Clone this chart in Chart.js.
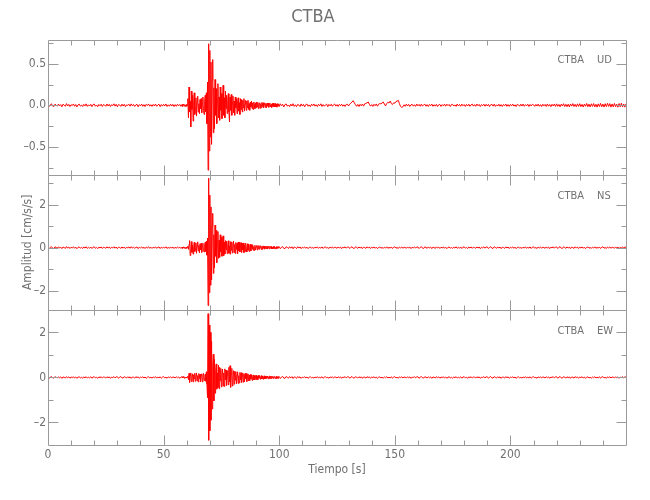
<!DOCTYPE html>
<html>
<head>
<meta charset="utf-8">
<title>CTBA</title>
<script src="https://cdn.jsdelivr.net/npm/chart.js@4.4.1/dist/chart.umd.min.js"></script>
<style>
  html, body { margin: 0; padding: 0; background: #fff; }
</style>
</head>
<body>
<canvas id="canvasCTBA" width="650" height="500"></canvas>
<script>
// estacion y componentes
var estacion = 'CTBA';
var componentes = ['UD', 'NS', 'EW'];

// inicio [s] y paso de muestreo [s] de cada tramo de la traza
var tramoAntes = [0, 0.5];     // 0 .. 57.5
var tramoEvento = [58, 0.25];  // 58 .. 99.75
var tramoDespues = [100, 0.5]; // 100 .. 250

// ---- UD [cm/s/s] ----
var udAntes = [
  0.010,-0.014,0.006,0.018,-0.009,-0.016,0.012,0.004,-0.011,0.015,
  -0.006,0.009,-0.018,0.013,0.002,-0.012,0.020,-0.008,0.011,-0.015,
  0.007,-0.003,0.016,-0.012,0.009,-0.019,0.005,0.014,-0.010,0.003,
  -0.014,0.011,-0.007,0.017,-0.013,0.006,-0.009,0.012,-0.016,0.008,
  0.015,-0.011,0.004,-0.017,0.010,-0.006,0.013,-0.014,0.009,0.002,
  -0.012,0.016,-0.008,0.011,-0.015,0.007,-0.004,0.018,-0.010,0.012,
  -0.017,0.009,0.003,-0.013,0.014,-0.009,0.012,-0.016,0.006,-0.002,
  0.013,-0.011,0.017,-0.007,0.010,-0.014,0.005,0.011,-0.018,0.009,
  -0.006,0.014,-0.012,0.008,-0.015,0.012,-0.003,0.016,-0.011,0.007,
  -0.013,0.010,-0.008,0.015,-0.012,0.004,0.013,-0.016,0.009,-0.010,
  0.012,-0.007,0.016,-0.014,0.006,-0.011,0.014,-0.009,0.011,-0.015,
  0.008,-0.012,0.013,-0.006,0.010,-0.013
];
var udEvento = [
  0.011,-0.013,0.006,0.015,-0.010,0.004,-0.014,0.009,
  -0.012,0.010,0.08,-0.15,0.22,-0.08,0.05,-0.26,
  0.17,-0.05,0.12,-0.19,0.06,0.15,-0.11,-0.03,
  0.09,-0.13,0.04,0.11,-0.08,0.02,-0.10,0.07,
  -0.04,0.08,-0.09,0.03,0.10,-0.06,-0.11,0.05,
  0.12,-0.08,0.15,-0.22,0.28,-0.78,0.74,-0.55,
  0.66,-0.38,0.52,-0.47,0.30,0.55,-0.33,0.21,
  -0.28,0.31,-0.12,0.20,-0.22,0.08,0.26,-0.15,
  0.10,-0.18,0.22,-0.06,0.14,-0.16,0.05,0.24,
  -0.12,0.09,-0.15,0.17,-0.04,0.12,-0.10,0.06,
  0.14,-0.08,-0.20,0.10,-0.06,0.13,-0.12,0.04,
  0.11,-0.09,0.05,-0.12,0.10,-0.03,0.08,-0.10,
  0.04,0.09,-0.07,0.03,-0.11,0.08,-0.05,0.07,
  -0.08,0.06,-0.03,0.08,-0.07,0.02,0.06,-0.06,
  0.05,-0.03,0.06,-0.05,0.02,-0.06,0.04,-0.02,
  0.05,-0.04,0.03,-0.05,0.04,0.01,-0.04,0.03,
  -0.03,0.04,-0.02,0.035,-0.04,0.02,0.03,-0.035,
  0.02,-0.03,0.035,-0.015,0.03,-0.03,0.01,0.03,
  -0.025,0.02,-0.03,0.025,-0.01,0.028,-0.024,0.012,
  0.025,-0.02,0.01,-0.026,0.022,-0.012,0.024,-0.02,
  0.008,0.022,-0.018,0.014,-0.022,0.02,-0.008,0.018
];
var udDespues = [
  -0.015,0.018,-0.006,0.012,-0.020,0.009,0.016,-0.011,0.004,-0.017,
  0.014,-0.008,0.019,-0.013,0.006,-0.016,0.011,0.003,-0.014,0.017,
  -0.009,0.012,-0.018,0.008,0.015,-0.012,0.005,-0.016,0.013,-0.004,
  0.016,-0.010,0.007,-0.015,0.012,-0.006,0.018,-0.013,0.009,-0.011,
  0.004,0.014,-0.016,0.010,-0.007,0.013,-0.012,0.006,0.015,-0.010,
  0.008,-0.013,0.011,-0.005,0.014,-0.011,0.006,-0.014,0.010,0.012,
  -0.008,0.015,0.025,0.040,0.055,0.030,0.005,-0.012,0.010,-0.015,
  0.012,-0.006,0.015,-0.010,0.018,0.022,0.030,0.040,0.012,-0.010,
  0.008,-0.014,0.012,-0.005,0.016,-0.011,0.014,0.020,0.018,0.028,
  0.040,0.015,-0.008,0.022,0.035,0.028,0.050,0.020,0.010,0.030,
  0.025,0.045,0.050,0.060,0.020,-0.015,-0.025,-0.018,0.006,-0.012,
  0.014,-0.008,0.011,-0.014,0.005,0.012,-0.010,0.007,-0.013,0.015,
  -0.006,0.010,-0.012,0.014,-0.009,0.004,0.013,-0.011,0.008,-0.014,
  0.011,-0.005,0.015,-0.012,0.007,-0.010,0.012,-0.015,0.006,0.010,
  -0.013,0.008,-0.006,0.014,-0.011,0.013,-0.004,0.010,-0.014,0.009,
  0.012,-0.009,0.005,-0.013,0.015,-0.007,0.010,-0.012,0.014,-0.006,
  0.009,-0.014,0.011,-0.008,0.013,-0.012,0.006,0.014,-0.010,0.008,
  -0.012,0.015,-0.006,0.010,-0.014,0.009,-0.005,0.013,-0.011,0.012,
  -0.008,0.011,-0.015,0.007,0.012,-0.010,0.014,-0.013,0.006,-0.009,
  0.013,-0.011,0.008,-0.014,0.010,-0.006,0.015,-0.012,0.009,-0.013,
  0.011,-0.007,0.014,-0.010,0.006,-0.015,0.012,0.005,-0.011,0.013,
  -0.009,0.015,-0.012,0.008,-0.006,0.013,-0.014,0.010,-0.008,0.012,
  0.006,-0.013,0.011,-0.009,0.014,-0.012,0.008,-0.015,0.013,-0.007,
  0.010,-0.014,0.016,-0.011,0.009,-0.016,0.012,-0.008,0.015,-0.013,
  0.017,-0.012,0.010,-0.018,0.014,-0.009,0.019,-0.015,0.011,-0.017,
  0.013,-0.019,0.016,-0.010,0.020,-0.014,0.012,-0.018,0.017,-0.013,
  0.019,-0.016,0.011,-0.021,0.015,-0.012,0.022,-0.017,0.014,-0.020,
  0.018,-0.013,0.021,-0.019,0.012,-0.022,0.017,-0.015,0.023,-0.018,
  0.014,-0.021,0.019,-0.016,0.024,-0.013,0.020,-0.022,0.016,-0.019,
  0.022,-0.017,0.013,-0.023,0.021,-0.018,0.025,-0.020,0.015,-0.022,
  0.018
];

// ---- NS [cm/s/s] ----
var nsAntes = [
  0.03,-0.04,0.01,0.045,-0.025,-0.04,0.035,0.01,-0.03,0.04,
  -0.015,0.025,-0.045,0.03,0.005,-0.035,0.05,-0.02,0.03,-0.04,
  0.02,-0.01,0.04,-0.03,0.025,-0.05,0.015,0.035,-0.025,0.01,
  -0.035,0.03,-0.02,0.045,-0.035,0.015,-0.025,0.03,-0.04,0.02,
  0.04,-0.03,0.01,-0.045,0.025,-0.015,0.035,-0.035,0.025,0.005,
  -0.03,0.04,-0.02,0.03,-0.04,0.02,-0.01,0.045,-0.025,0.03,
  -0.045,0.025,0.01,-0.035,0.035,-0.025,0.03,-0.04,0.015,-0.005,
  0.035,-0.03,0.045,-0.02,0.025,-0.035,0.015,0.03,-0.045,0.025,
  -0.015,0.035,-0.03,0.02,-0.04,0.03,-0.01,0.04,-0.03,0.02,
  -0.035,0.025,-0.02,0.04,-0.03,0.01,0.035,-0.04,0.025,-0.025,
  0.03,-0.02,0.04,-0.035,0.015,-0.03,0.035,-0.025,0.03,-0.04,
  0.02,-0.03,0.035,-0.015,0.025,-0.035
];
var nsEvento = [
  0.03,-0.035,0.015,0.04,-0.025,0.01,-0.04,0.025,
  -0.03,0.03,0.06,-0.08,0.15,0.33,-0.37,-0.12,
  0.28,-0.22,0.12,-0.3,0.05,0.25,-0.18,-0.06,
  0.22,-0.26,0.08,0.27,-0.15,0.1,-0.24,0.18,
  -0.1,0.2,-0.22,0.06,0.21,-0.15,-0.2,0.12,
  0.25,-0.18,0.3,-0.35,0.45,-2.7,3.24,-2.1,
  2.45,-1.75,1.9,-1.5,1.0,1.6,-1.2,0.6,
  -0.95,1.05,-0.4,0.8,-0.7,0.3,0.75,-0.5,
  0.35,-0.45,0.6,-0.2,0.5,-0.4,0.15,0.55,
  -0.37,0.25,-0.3,0.33,-0.1,0.3,-0.28,0.12,
  0.32,-0.26,0.08,-0.3,0.28,-0.12,0.27,-0.25,
  0.1,0.3,-0.22,0.15,-0.27,0.24,-0.08,0.2,
  -0.28,0.26,-0.14,0.25,-0.2,0.06,0.23,-0.22,
  0.2,-0.1,0.22,-0.23,0.12,-0.18,0.21,-0.05,
  -0.2,0.18,-0.12,0.16,-0.18,0.08,0.17,-0.15,
  0.13,-0.06,0.14,-0.12,0.05,-0.13,0.11,-0.1,
  0.04,0.1,-0.11,0.09,-0.05,0.1,-0.08,0.03,
  0.09,-0.09,0.05,-0.08,0.08,-0.03,0.07,-0.07,
  0.02,0.07,-0.06,0.06,-0.065,0.03,0.06,-0.055,
  0.06,-0.03,0.055,-0.06,0.02,-0.05,0.055,-0.04,
  0.05,-0.055,0.02,0.045,-0.05,0.04,-0.02,0.05
];
var nsDespues = [
  0.045,-0.05,0.02,0.05,-0.035,-0.045,0.04,0.015,-0.04,0.045,
  -0.025,0.04,-0.05,0.03,0.01,-0.045,0.045,-0.02,0.035,-0.045,
  0.02,-0.01,0.035,-0.03,0.025,-0.045,0.015,0.03,-0.025,0.01,
  -0.035,0.025,-0.02,0.04,-0.03,0.015,-0.025,0.035,-0.04,0.02,
  0.04,-0.025,0.01,-0.04,0.03,-0.015,0.035,-0.03,0.025,0.005,
  -0.03,0.035,-0.02,0.03,-0.045,0.02,-0.01,0.04,-0.025,0.03,
  0.035,-0.04,0.015,0.045,-0.025,-0.035,0.04,0.01,-0.03,0.035,
  -0.02,0.03,-0.045,0.025,0.005,-0.035,0.04,-0.015,0.03,-0.04,
  0.02,-0.01,0.035,-0.03,0.025,-0.045,0.015,0.03,-0.025,0.01,
  -0.035,0.025,-0.02,0.04,-0.03,0.015,-0.025,0.035,-0.04,0.02,
  0.04,-0.025,0.01,-0.04,0.03,-0.015,0.035,-0.03,0.025,0.005,
  -0.03,0.035,-0.02,0.03,-0.045,0.02,-0.01,0.04,-0.025,0.03,
  0.035,-0.04,0.015,0.045,-0.025,-0.035,0.04,0.01,-0.03,0.035,
  -0.02,0.03,-0.045,0.025,0.005,-0.035,0.04,-0.015,0.03,-0.04,
  0.02,-0.01,0.035,-0.03,0.025,-0.045,0.015,0.03,-0.025,0.01,
  -0.035,0.025,-0.02,0.04,-0.03,0.015,-0.025,0.035,-0.04,0.02,
  0.04,-0.025,0.01,-0.04,0.03,-0.015,0.035,-0.03,0.025,0.005,
  -0.03,0.035,-0.02,0.03,-0.045,0.02,-0.01,0.04,-0.025,0.03,
  0.035,-0.04,0.015,0.045,-0.025,-0.035,0.04,0.01,-0.03,0.035,
  -0.02,0.03,-0.045,0.025,0.005,-0.035,0.04,-0.015,0.03,-0.04,
  0.02,-0.01,0.035,-0.03,0.025,-0.045,0.015,0.03,-0.025,0.01,
  -0.035,0.025,-0.02,0.04,-0.03,0.015,-0.025,0.035,-0.04,0.02,
  0.04,-0.025,0.01,-0.04,0.03,-0.015,0.035,-0.03,0.025,0.005,
  -0.03,0.035,-0.02,0.03,-0.045,0.02,-0.01,0.04,-0.025,0.03,
  0.035,-0.04,0.015,0.045,-0.025,-0.035,0.04,0.01,-0.03,0.035,
  -0.02,0.03,-0.045,0.025,0.005,-0.035,0.04,-0.015,0.03,-0.04,
  0.02,-0.01,0.035,-0.03,0.025,-0.045,0.015,0.03,-0.025,0.01,
  -0.035,0.025,-0.02,0.04,-0.03,0.015,-0.025,0.035,-0.04,0.02,
  0.04,-0.025,0.01,-0.04,0.03,-0.015,0.035,-0.03,0.025,0.005,
  -0.03,0.035,-0.02,0.03,-0.045,0.02,-0.01,0.04,-0.025,0.03,
  0.02
];

// ---- EW [cm/s/s] ----
var ewAntes = [
  0.03,-0.035,0.01,0.04,-0.02,-0.03,0.035,0.005,-0.025,0.03,
  -0.015,0.025,-0.04,0.02,0.01,-0.03,0.035,-0.01,0.025,-0.035,
  0.015,-0.005,0.03,-0.025,0.02,-0.04,0.01,0.025,-0.02,0.005,
  -0.03,0.02,-0.015,0.035,-0.025,0.01,-0.02,0.03,-0.035,0.015,
  0.035,-0.02,0.005,-0.035,0.025,-0.01,0.03,-0.025,0.02,0.01,
  -0.025,0.03,-0.015,0.025,-0.04,0.015,-0.005,0.035,-0.02,0.025,
  0.03,-0.035,0.01,0.04,-0.02,-0.03,0.035,0.005,-0.025,0.03,
  -0.015,0.025,-0.04,0.02,0.01,-0.03,0.035,-0.01,0.025,-0.035,
  0.015,-0.005,0.03,-0.025,0.02,-0.04,0.01,0.025,-0.02,0.005,
  -0.03,0.02,-0.015,0.035,-0.025,0.01,-0.02,0.03,-0.035,0.015,
  0.035,-0.02,0.005,-0.035,0.025,-0.01,0.03,-0.025,0.02,0.01,
  -0.025,0.03,-0.015,0.025,-0.04,0.015
];
var ewEvento = [
  0.03,-0.025,0.035,0.01,-0.035,0.02,-0.03,0.015,
  -0.02,0.035,0.05,-0.1,0.18,-0.22,0.08,0.2,
  -0.18,0.05,0.16,-0.2,0.12,-0.06,0.19,-0.17,
  0.04,0.2,-0.15,0.08,-0.2,0.17,-0.05,0.15,
  -0.18,0.1,0.16,-0.2,0.06,0.18,-0.14,-0.08,
  0.15,-0.17,0.25,-0.3,-0.9,2.83,-2.79,2.33,
  -2.37,2.0,-1.9,1.6,-1.4,0.5,1.03,-1.04,
  0.8,-0.7,0.3,0.6,-0.52,0.2,-0.45,0.55,
  -0.5,0.45,-0.15,0.4,-0.42,0.1,0.37,-0.38,
  0.2,-0.4,0.38,-0.1,0.33,-0.35,0.08,0.3,
  -0.33,0.45,-0.2,0.52,-0.44,0.15,0.4,-0.38,
  0.05,0.3,-0.3,0.27,-0.12,0.26,-0.28,0.1,
  0.25,-0.27,0.08,-0.24,0.22,-0.1,0.21,-0.22,
  0.06,0.2,-0.21,0.14,-0.19,0.18,-0.05,0.17,
  -0.18,0.08,0.16,-0.15,0.1,-0.14,0.13,-0.06,
  0.12,-0.13,0.04,0.11,-0.11,0.08,-0.1,0.03,
  0.1,-0.09,0.05,-0.1,0.09,-0.03,0.08,-0.08,
  0.03,0.08,-0.07,0.06,-0.08,0.02,0.07,-0.065,
  0.05,-0.06,0.065,-0.02,0.06,-0.06,0.03,0.055,
  -0.055,0.04,-0.05,0.055,-0.02,0.05,-0.05,0.03,
  0.05,-0.045,0.015,0.045,-0.05,0.03,-0.04,0.045
];
var ewDespues = [
  0.04,-0.045,0.015,0.045,-0.03,-0.04,0.04,0.01,-0.035,0.04,
  -0.02,0.035,-0.045,0.025,0.01,-0.04,0.04,-0.015,0.03,-0.04,
  0.015,-0.005,0.03,-0.025,0.02,-0.04,0.01,0.025,-0.02,0.005,
  -0.03,0.02,-0.015,0.035,-0.025,0.01,-0.02,0.03,-0.035,0.015,
  0.035,-0.02,0.005,-0.035,0.025,-0.01,0.03,-0.025,0.02,0.01,
  -0.025,0.03,-0.015,0.025,-0.04,0.015,-0.005,0.035,-0.02,0.025,
  0.03,-0.035,0.01,0.04,-0.02,-0.03,0.035,0.005,-0.025,0.03,
  -0.015,0.025,-0.04,0.02,0.01,-0.03,0.035,-0.01,0.025,-0.035,
  0.015,-0.005,0.03,-0.025,0.02,-0.04,0.01,0.025,-0.02,0.005,
  -0.03,0.02,-0.015,0.035,-0.025,0.01,-0.02,0.03,-0.035,0.015,
  0.035,-0.02,0.005,-0.035,0.025,-0.01,0.03,-0.025,0.02,0.01,
  -0.025,0.03,-0.015,0.025,-0.04,0.015,-0.005,0.035,-0.02,0.025,
  0.03,-0.035,0.01,0.04,-0.02,-0.03,0.035,0.005,-0.025,0.03,
  -0.015,0.025,-0.04,0.02,0.01,-0.03,0.035,-0.01,0.025,-0.035,
  0.015,-0.005,0.03,-0.025,0.02,-0.04,0.01,0.025,-0.02,0.005,
  -0.03,0.02,-0.015,0.035,-0.025,0.01,-0.02,0.03,-0.035,0.015,
  0.035,-0.02,0.005,-0.035,0.025,-0.01,0.03,-0.025,0.02,0.01,
  -0.025,0.03,-0.015,0.025,-0.04,0.015,-0.005,0.035,-0.02,0.025,
  0.03,-0.035,0.01,0.04,-0.02,-0.03,0.035,0.005,-0.025,0.03,
  -0.015,0.025,-0.04,0.02,0.01,-0.03,0.035,-0.01,0.025,-0.035,
  0.015,-0.005,0.03,-0.025,0.02,-0.04,0.01,0.025,-0.02,0.005,
  -0.03,0.02,-0.015,0.035,-0.025,0.01,-0.02,0.03,-0.035,0.015,
  0.035,-0.02,0.005,-0.035,0.025,-0.01,0.03,-0.025,0.02,0.01,
  -0.025,0.03,-0.015,0.025,-0.04,0.015,-0.005,0.035,-0.02,0.025,
  0.03,-0.035,0.01,0.04,-0.02,-0.03,0.035,0.005,-0.025,0.03,
  -0.015,0.025,-0.04,0.02,0.01,-0.03,0.035,-0.01,0.025,-0.035,
  0.015,-0.005,0.03,-0.025,0.02,-0.04,0.01,0.025,-0.02,0.005,
  -0.03,0.02,-0.015,0.035,-0.025,0.01,-0.02,0.03,-0.035,0.015,
  0.035,-0.02,0.005,-0.035,0.025,-0.01,0.03,-0.025,0.02,0.01,
  -0.025,0.03,-0.015,0.025,-0.04,0.015,-0.005,0.035,-0.02,0.025,
  0.015
];

// rangos y marcas de los ejes
var rangoTiempo = [0, 250];
var ticksTiempo = [0, 50, 100, 150, 200];
var menoresTiempo = [10,20,30,40,50,60,70,80,90,100,110,120,130,140,150,160,170,180,190,200,210,220,230,240];
var rangoUD = [-0.835, 0.79];
var ticksUD = [-0.5, 0, 0.5];
var menoresUD = [-0.75, -0.25, 0.25, 0.75];
var rangoNS = [-2.9, 3.4];
var ticksNS = [-2, 0, 2];
var menoresNS = [-1, 1, 3];
var rangoEW = [-3.0, 3.0];
var ticksEW = [-2, 0, 2];
var menoresEW = [-1, 1];

function traza(antes, evento, despues) {
  var pts = [];
  var tramos = [[antes, tramoAntes], [evento, tramoEvento], [despues, tramoDespues]];
  for (var k = 0; k < tramos.length; k++) {
    var v = tramos[k][0], t0 = tramos[k][1][0], dt = tramos[k][1][1];
    for (var i = 0; i < v.length; i++) pts.push({x: t0 + i * dt, y: v[i]});
  }
  return pts;
}

var gris = '#707070';
var fuente = "'DejaVu Sans Condensed', sans-serif";
Chart.defaults.font.family = fuente;
Chart.defaults.font.size = 12;
Chart.defaults.color = gris;

function etiqueta(dec) {
  return function(v) {
    return (v < 0 ? '\u2013' : '') + Math.abs(v).toFixed(dec);
  };
}

function ejeY(rango, ticks, dec) {
  return {
    type: 'linear',
    position: 'left',
    stack: 'trazas',
    stackWeight: 1,
    min: rango[0],
    max: rango[1],
    grid: { display: false, drawTicks: false },
    border: { display: false },
    ticks: { padding: 2, callback: etiqueta(dec), includeBounds: false },
    afterBuildTicks: function(s) { s.ticks = ticks.map(function(v) { return {value: v}; }); },
    afterFit: function(s) { s.width = 48; }
  };
}

var paneles = [
  { id: 'yUD', comp: componentes[0], menores: menoresUD, mayores: ticksUD },
  { id: 'yNS', comp: componentes[1], menores: menoresNS, mayores: ticksNS },
  { id: 'yEW', comp: componentes[2], menores: menoresEW, mayores: ticksEW }
];

var marco = {
  id: 'marco',
  afterDraw: function(chart) {
    var ctx = chart.ctx, x = chart.scales.x, area = chart.chartArea;
    ctx.save();
    ctx.strokeStyle = '#9a9a9a';
    ctx.lineWidth = 1;
    paneles.forEach(function(p) {
      var s = chart.scales[p.id];
      var L = Math.round(x.left) + 0.5, R = Math.round(x.right) + 0.5;
      var T = Math.round(s.top) + 0.5, B = Math.round(s.bottom) + 0.5;
      ctx.beginPath();
      ctx.rect(L, T, R - L, B - T);
      menoresTiempo.forEach(function(v) {
        var px = Math.round(x.getPixelForValue(v)) + 0.5;
        var len = ticksTiempo.indexOf(v) >= 0 ? 10 : 5;
        ctx.moveTo(px, T); ctx.lineTo(px, T + len);
        ctx.moveTo(px, B); ctx.lineTo(px, B - len);
      });
      p.mayores.concat(p.menores).forEach(function(v) {
        var py = Math.round(s.getPixelForValue(v)) + 0.5;
        var len = p.mayores.indexOf(v) >= 0 ? 10 : 5;
        ctx.moveTo(L, py); ctx.lineTo(L + len, py);
        ctx.moveTo(R, py); ctx.lineTo(R - len, py);
      });
      ctx.stroke();
      ctx.fillStyle = gris;
      ctx.font = '11px ' + fuente;
      ctx.textBaseline = 'middle';
      ctx.textAlign = 'right';
      ctx.fillText(estacion, 584, s.top + 21);
      ctx.textAlign = 'left';
      ctx.fillText(p.comp, 597, s.top + 21);
    });
    // titulo del eje vertical, centrado en los tres paneles
    ctx.translate(28, (area.top + area.bottom) / 2);
    ctx.rotate(-Math.PI / 2);
    ctx.font = '12px ' + fuente;
    ctx.textAlign = 'center';
    ctx.textBaseline = 'middle';
    ctx.fillText('Amplitud [cm/s/s]', 0, 0);
    ctx.restore();
  }
};

var lineaRoja = { borderColor: '#ff0000', borderWidth: 1, pointRadius: 0, tension: 0, fill: false };

new Chart(document.getElementById('canvasCTBA'), {
  type: 'line',
  data: {
    datasets: [
      Object.assign({ label: estacion + ' UD', yAxisID: 'yUD', data: traza(udAntes, udEvento, udDespues) }, lineaRoja),
      Object.assign({ label: estacion + ' NS', yAxisID: 'yNS', data: traza(nsAntes, nsEvento, nsDespues) }, lineaRoja),
      Object.assign({ label: estacion + ' EW', yAxisID: 'yEW', data: traza(ewAntes, ewEvento, ewDespues) }, lineaRoja)
    ]
  },
  options: {
    responsive: false,
    animation: false,
    layout: { padding: { left: 0, right: 24, top: 0, bottom: 0 } },
    plugins: {
      legend: { display: false },
      tooltip: { enabled: false },
      title: { display: true, text: estacion, font: { size: 18, weight: 'normal' }, color: gris, padding: { top: 7, bottom: 11 } }
    },
    scales: {
      x: {
        type: 'linear',
        position: 'bottom',
        min: rangoTiempo[0],
        max: rangoTiempo[1],
        grid: { display: false, drawTicks: false },
        border: { display: false },
        ticks: { padding: 3, includeBounds: false },
        afterBuildTicks: function(s) { s.ticks = ticksTiempo.map(function(v) { return {value: v}; }); },
        afterFit: function(s) { s.height = 55; },
        title: { display: true, text: 'Tiempo [s]', font: { size: 12 }, padding: { bottom: 23 } }
      },
      yEW: ejeY(rangoEW, ticksEW, 0),
      yNS: ejeY(rangoNS, ticksNS, 0),
      yUD: ejeY(rangoUD, ticksUD, 1)
    }
  },
  plugins: [marco]
});
</script>
</body>
</html>
